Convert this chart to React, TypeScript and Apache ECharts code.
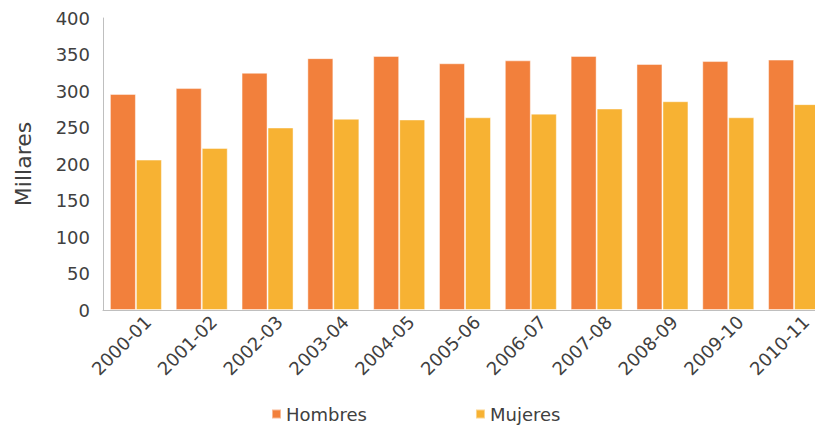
import React, { useEffect, useRef } from "react";
import * as echarts from "echarts";

const categories = ["2000-01", "2001-02", "2002-03", "2003-04", "2004-05", "2005-06", "2006-07", "2007-08", "2008-09", "2009-10", "2010-11"];
const hombres = [296, 304, 325, 345, 348, 338, 342, 348, 337, 341, 343];
const mujeres = [206, 222, 250, 262, 261, 264, 269, 276, 286, 264, 282];
const yTicks = { min: 0, max: 400, interval: 50 };

const FONT = "'DejaVu Sans', sans-serif";
const TEXT = "#404040";

export default function App() {
  const ref = useRef<HTMLDivElement>(null);
  useEffect(() => {
    if (!ref.current) return;
    const chart = echarts.init(ref.current, null, { renderer: "svg" });
    chart.setOption({
      animation: false,
      textStyle: { fontFamily: FONT },
      grid: { left: 103, right: 0, top: 18, bottom: 116 },
      legend: {
        left: 266,
        top: 400,
        itemWidth: 9,
        itemHeight: 9,
        itemGap: 108,
        icon: "rect",
        textStyle: { color: TEXT, fontSize: 18, fontFamily: FONT },
        data: ["Hombres", "Mujeres"],
      },
      xAxis: {
        type: "category",
        data: categories,
        axisLine: { lineStyle: { color: "#bfbfbf", width: 1 } },
        axisTick: { show: false },
        axisLabel: {
          rotate: 45,
          color: TEXT,
          fontSize: 18,
          fontFamily: FONT,
          margin: 8,
          interval: 0,
          verticalAlign: "top",
          padding: [0, -8, 0, 0],
        },
      },
      yAxis: {
        type: "value",
        min: yTicks.min,
        max: yTicks.max,
        interval: yTicks.interval,
        name: "Millares",
        nameLocation: "middle",
        nameGap: 69,
        nameTextStyle: { color: TEXT, fontSize: 22, fontFamily: FONT },
        axisLine: { show: true, lineStyle: { color: "#bfbfbf", width: 1 } },
        axisTick: { show: false },
        splitLine: { show: false },
        axisLabel: { color: TEXT, fontSize: 18, fontFamily: FONT, margin: 13 },
      },
      series: [
        {
          name: "Hombres",
          type: "bar",
          data: hombres,
          barGap: "0%",
          barCategoryGap: "21%",
          itemStyle: { color: "#F2803C", borderColor: "rgba(255,255,255,0.45)", borderWidth: 1 },
        },
        {
          name: "Mujeres",
          type: "bar",
          data: mujeres,
          barGap: "0%",
          barCategoryGap: "21%",
          itemStyle: { color: "#F7B233", borderColor: "rgba(255,255,255,0.45)", borderWidth: 1 },
        },
      ],
    });
    return () => chart.dispose();
  }, []);
  return (
    <div style={{ width: 815, height: 426, position: "absolute", left: 0, top: 0, overflow: "hidden" }}>
      <div ref={ref} style={{ width: 827, height: 426 }} />
    </div>
  );
}
